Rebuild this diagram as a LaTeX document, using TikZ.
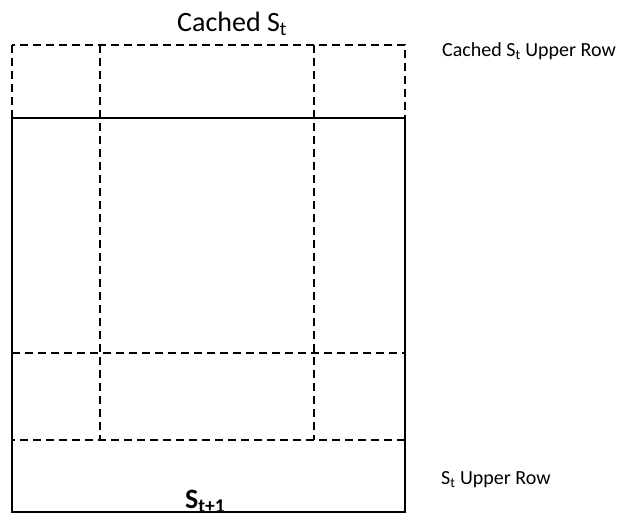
\documentclass[tikz,border=0pt]{standalone}
\usepackage{fontspec}
\setmainfont{Carlito}
\usepackage{xcolor}

\begin{document}
\begin{tikzpicture}[x=1pt, y=-1pt,
    cell/.style={draw, line width=1.6pt, dash pattern=on 8pt off 5pt},
    frame/.style={draw, line width=2pt},
    lbl/.style={anchor=base west, inner sep=0pt, font=\fontsize{20}{24}\selectfont}]
        \useasboundingbox (0,0) rectangle (627,515);

        % cached upper row and the tile grid
        \draw[cell] (12,45) rectangle (405,440);
        \draw[cell] (100,45) -- (100,440);
        \draw[cell] (314,45) -- (314,440);
        \draw[cell] (12,353) -- (405,353);

        % next state block
        \draw[frame] (12,118) rectangle (405,512);

        \node[lbl, font=\fontsize{28}{32}\selectfont] (cached) at (177,31.5) {Cached S\textsubscript{t}};
        \node[lbl] (cachedrow) at (442,56) {Cached S\textsubscript{t} Upper Row};
        \node[lbl] (upperrow) at (441,484) {S\textsubscript{t} Upper Row};
        \node[lbl, font=\fontsize{28}{32}\selectfont\bfseries] (next) at (185,508) {S\textsubscript{t+1}};
    \end{tikzpicture}
\end{document}
